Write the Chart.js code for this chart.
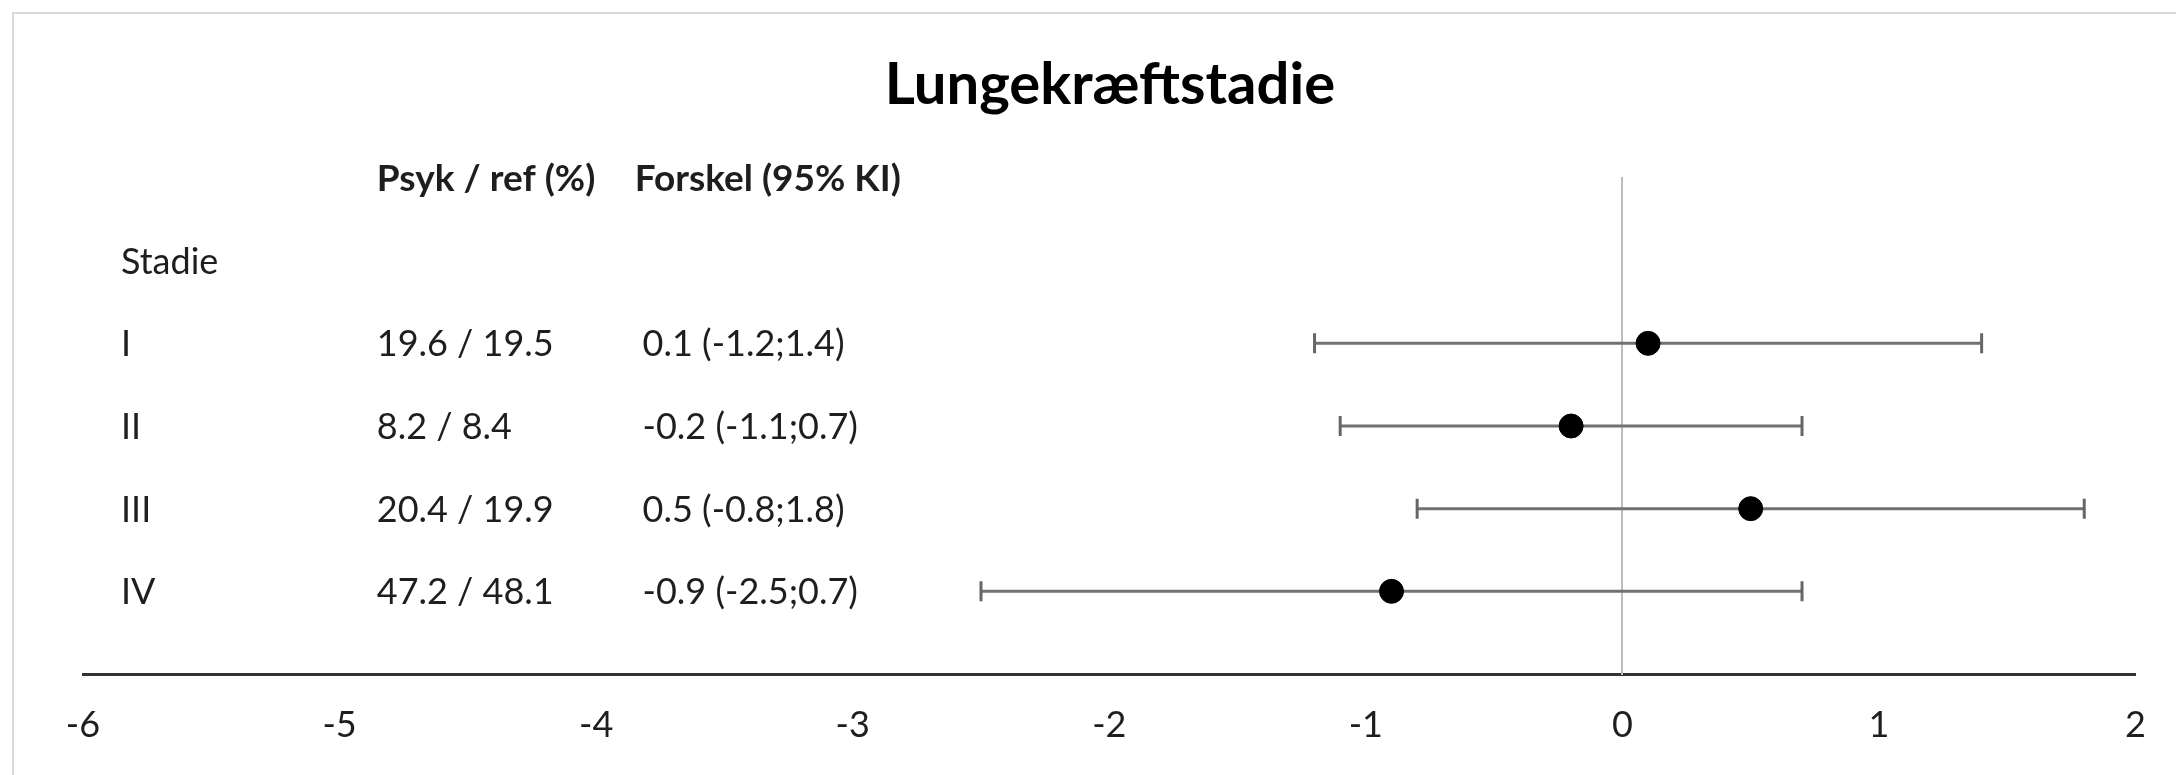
<!DOCTYPE html>
<html lang="da">
<head>
<meta charset="utf-8">
<title>Lungekræftstadie</title>
<script src="https://cdn.jsdelivr.net/npm/chart.js@4/dist/chart.umd.min.js"></script>
<style>
  html, body { margin: 0; padding: 0; background: #ffffff; }
  canvas { display: block; }
</style>
</head>
<body>
<canvas id="forest" width="2176" height="775"></canvas>
<script>
// Stages and their estimates
const stages = ['I', 'II', 'III', 'IV'];
const psykPct = [19.6, 8.2, 20.4, 47.2];     // psychiatric group, %
const refPct = [19.5, 8.4, 19.9, 48.1];      // reference group, %
const diffPct = [0.1, -0.2, 0.5, -0.9];      // difference, percentage points
const ciLow = [-1.2, -1.1, -0.8, -2.5];      // 95% CI lower bound
const ciHigh = [1.4, 0.7, 1.8, 0.7];         // 95% CI upper bound

// Axis range and tick values
const xTickValues = [-6, -5, -4, -3, -2, -1, 0, 1, 2];

// Text of the table to the left
const chartTitle = 'Lungekræftstadie';
const headPsyk = 'Psyk / ref (%)';
const headDiff = 'Forskel (95% KI)';
const groupLabel = 'Stadie';

// Row positions on the y scale (top row first)
const nRows = stages.length;
const rowY = stages.map((_, i) => nRows - i);
const groupY = nRows + 1;
const headY = nRows + 2;

const FONT = 'Lato, "Open Sans", "DejaVu Sans", sans-serif';
const TEXT_COLOR = '#1e1e1e';

const fmt = v => v.toFixed(1);
const psykRefText = stages.map((_, i) => fmt(psykPct[i]) + ' / ' + fmt(refPct[i]));
const diffText = stages.map((_, i) => fmt(diffPct[i]) + ' (' + fmt(ciLow[i]) + ';' + fmt(ciHigh[i]) + ')');

// One line dataset per confidence interval, capped with rotated line markers
const ciDatasets = stages.map((s, i) => ({
  label: 'KI ' + s,
  data: [{ x: ciLow[i], y: rowY[i] }, { x: ciHigh[i], y: rowY[i] }],
  showLine: true,
  borderColor: '#717171',
  borderWidth: 3,
  pointStyle: 'line',
  rotation: 90,
  pointRadius: 10,
  pointHoverRadius: 10,
  pointBorderColor: '#666666',
  pointBorderWidth: 3,
  order: 2
}));

const pointDataset = {
  label: 'Forskel',
  data: stages.map((_, i) => ({ x: diffPct[i], y: rowY[i] })),
  showLine: false,
  pointStyle: 'circle',
  pointRadius: 12,
  pointHoverRadius: 12,
  backgroundColor: '#000000',
  borderColor: '#000000',
  borderWidth: 1,
  order: 1
};

// Light frame around the chart
const framePlugin = {
  id: 'frame',
  beforeDraw(chart) {
    const ctx = chart.ctx;
    ctx.save();
    ctx.fillStyle = '#ffffff';
    ctx.fillRect(0, 0, chart.width, chart.height);
    ctx.strokeStyle = '#d9d9d9';
    ctx.lineWidth = 2;
    ctx.strokeRect(13, 13, chart.width + 20, chart.height + 20);
    ctx.restore();
  }
};

// Table columns to the left of the intervals, placed on the x scale
const columnX = { stage: -5.852, psyk: -4.855, diffHead: -3.85, diff: -3.819 };

const tablePlugin = {
  id: 'table',
  afterDraw(chart) {
    const ctx = chart.ctx;
    const xs = chart.scales.x;
    const ys = chart.scales.y;
    const size = 36;
    const capHalf = size * 0.717 / 2;
    const put = (text, xv, yv, bold) => {
      ctx.font = (bold ? 'bold ' : '') + (bold ? size + 1 : size) + 'px ' + FONT;
      ctx.fillText(text, xs.getPixelForValue(xv), ys.getPixelForValue(yv) + capHalf);
    };
    ctx.save();
    ctx.fillStyle = TEXT_COLOR;
    ctx.textAlign = 'left';
    ctx.textBaseline = 'alphabetic';
    put(headPsyk, columnX.psyk, headY, true);
    put(headDiff, columnX.diffHead, headY, true);
    put(groupLabel, columnX.stage, groupY, false);
    stages.forEach((s, i) => {
      put(s, columnX.stage, rowY[i], false);
      put(psykRefText[i], columnX.psyk, rowY[i], false);
      put(diffText[i], columnX.diff, rowY[i], false);
    });
    ctx.restore();
  }
};

new Chart(document.getElementById('forest'), {
  type: 'scatter',
  data: { datasets: [...ciDatasets, pointDataset] },
  options: {
    responsive: false,
    devicePixelRatio: 1,
    animation: false,
    events: [],
    layout: { padding: { left: 83, right: 39, top: 0, bottom: 0 } },
    plugins: {
      legend: { display: false },
      tooltip: { enabled: false },
      title: {
        display: true,
        text: chartTitle,
        color: '#000000',
        font: { family: FONT, size: 58, weight: 'bold', lineHeight: 1.2 },
        padding: { top: 50, bottom: 58.4 }
      }
    },
    scales: {
      x: {
        type: 'linear',
        min: xTickValues[0],
        max: xTickValues[xTickValues.length - 1],
        afterBuildTicks(scale) {
          scale.ticks = xTickValues.map(v => ({ value: v }));
        },
        afterFit(scale) { scale.height = 101; },
        grid: { display: false, drawTicks: false, tickLength: 0 },
        border: { display: true, color: '#333333', width: 3 },
        ticks: {
          color: TEXT_COLOR,
          padding: 30,
          maxRotation: 0,
          autoSkip: false,
          font: { family: FONT, size: 36 },
          callback: v => String(v)
        }
      },
      y: {
        type: 'linear',
        min: 0,
        max: headY,
        position: { x: 0 },
        grid: { display: false, drawTicks: false },
        border: { display: true, color: '#bdbdbd', width: 2 },
        ticks: { display: false }
      }
    }
  },
  plugins: [framePlugin, tablePlugin]
});
</script>
</body>
</html>
